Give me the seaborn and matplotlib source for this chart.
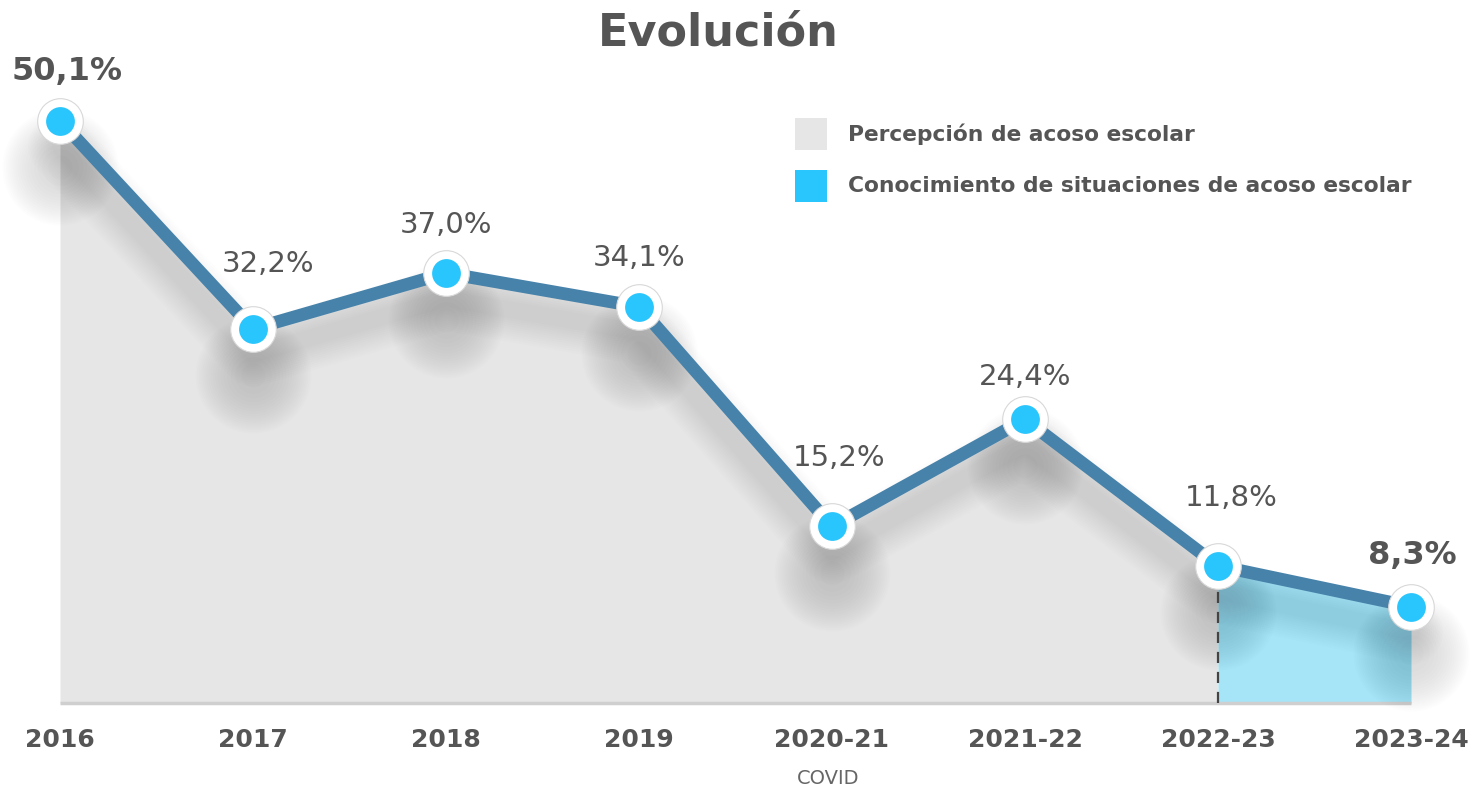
import numpy as np
import pandas as pd
import matplotlib
matplotlib.use("Agg")
import matplotlib.pyplot as plt
import seaborn as sns

# ---- data ----
periods = ["2016", "2017", "2018", "2019", "2020-21", "2021-22", "2022-23", "2023-24"]
values = [50.1, 32.2, 37.0, 34.1, 15.2, 24.4, 11.8, 8.3]
value_labels = ["50,1%", "32,2%", "37,0%", "34,1%", "15,2%", "24,4%", "11,8%", "8,3%"]
legend_labels = ["Percepción de acoso escolar", "Conocimiento de situaciones de acoso escolar"]
title = "Evolución"
note = "COVID"

# ---- layout / style ----
W, H = 1481, 789
px_x = 193.0      # px per category
px_y = 11.62      # px per percent
x0_px = 60        # px of first category
y0_px = 703       # px (from top) of value 0

sns.set_theme(style="white")
plt.rcParams["font.family"] = ["DejaVu Sans"]

fig = plt.figure(figsize=(W / 100, H / 100), dpi=100)
ax = fig.add_axes([0, 0, 1, 1])
ax.set_xlim(-x0_px / px_x, (W - x0_px) / px_x)
ax.set_ylim(-(H - y0_px) / px_y, y0_px / px_y)
ax.axis("off")

df = pd.DataFrame({"x": np.arange(len(periods)), "y": values, "period": periods})
xs = df["x"].to_numpy(dtype=float)
ys = df["y"].to_numpy(dtype=float)

gray_fill = "#e6e6e6"
blue_fill = "#a6e5f8"
line_col = "#4682aa"
dot_col = "#29c5fd"
text_col = "#555555"

# area fills
n_split = periods.index("2022-23")
ax.fill_between(xs[: n_split + 1], 0, ys[: n_split + 1], color=gray_fill, lw=0, zorder=1)
ax.fill_between(xs[n_split:], 0, ys[n_split:], color=blue_fill, lw=0, zorder=1)

# baseline
ax.plot([xs[0], xs[-1]], [0, 0], color="#cfcfcf", lw=2.5, zorder=2, solid_capstyle="butt")

# dashed divider
ax.plot([xs[n_split], xs[n_split]], [0, ys[n_split]], color="#444444", lw=1.6,
        ls=(0, (5, 4)), zorder=3)

# soft shadow under the line
for w in np.linspace(46, 12, 12):
    ax.plot(xs, ys - 2.2, color="black", lw=w, alpha=0.007, zorder=2,
            solid_capstyle="round", solid_joinstyle="round")
# soft shadows under markers
for xv, yv in zip(xs, ys):
    for s in np.linspace(7000, 300, 18):
        ax.scatter([xv], [yv - 4.0], s=s, color="black", alpha=0.008, lw=0, zorder=2)

# main line
sns.lineplot(data=df, x="x", y="y", ax=ax, color=line_col, lw=9.2, zorder=4,
             sort=False, legend=False)

# markers
ax.scatter(xs, ys, s=1080, color="white", edgecolor="#d8d8d8", lw=0.8, zorder=5)
ax.scatter(xs, ys, s=430, color=dot_col, lw=0, zorder=6)

# value labels
dx_px = [7, 15, 0, 0, 7, 0, 13, 1]
dy_px = [49, 65, 48, 49, 68, 42, 68, 51]
bold_idx = {0, len(values) - 1}
for i, (xv, yv, lab) in enumerate(zip(xs, ys, value_labels)):
    ax.text(xv + dx_px[i] / px_x, yv + dy_px[i] / px_y, lab,
            ha="center", va="center", color=text_col,
            fontsize=23 if i in bold_idx else 21,
            fontweight="bold" if i in bold_idx else "normal", zorder=7)

# x tick labels
for xv, p in zip(xs, periods):
    ax.text(xv, -(740 - y0_px) / px_y, p, ha="center", va="center",
            fontsize=18, fontweight="bold", color=text_col)
ax.text(xs[4] - 4 / px_x, -(778 - y0_px) / px_y, note, ha="center", va="center",
        fontsize=14, fontweight="normal", color="#666666")

# title
fig.text(718 / W, 1 - 33 / H, title, ha="center", va="center", fontsize=32,
         fontweight="bold", color=text_col)

# legend
for j, (lab, col) in enumerate(zip(legend_labels, [gray_fill, dot_col])):
    yc = 134 + j * 52
    fig.patches.append(plt.Rectangle((795 / W, 1 - (yc + 16) / H), 32 / W, 32 / H,
                                     transform=fig.transFigure, color=col, lw=0))
    fig.text(848 / W, 1 - yc / H, lab, ha="left", va="center", fontsize=15.7,
             fontweight="bold", color=text_col)

fig.savefig("out.png", dpi=100)
